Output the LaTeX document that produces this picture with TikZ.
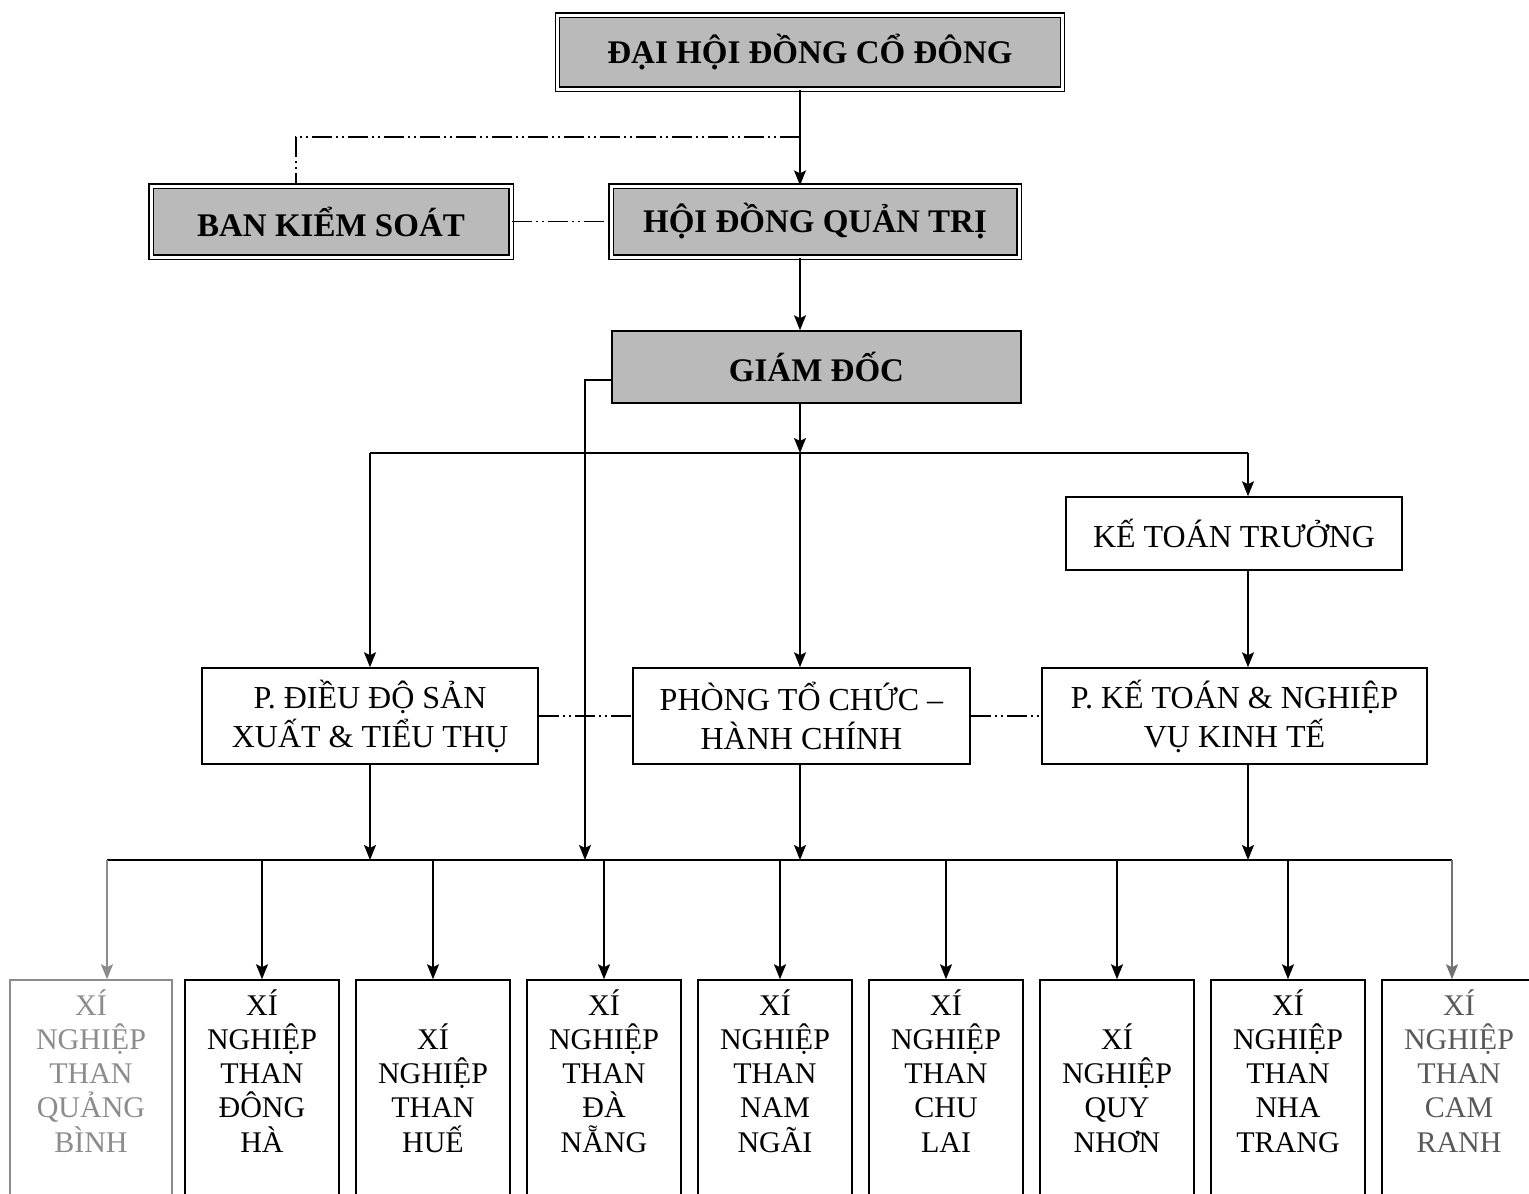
\documentclass[tikz,border=0pt]{standalone}
\usepackage{fontspec}
\setmainfont{Liberation Serif}
\usetikzlibrary{arrows.meta}
\tikzset{
  headbox/.style={draw, double, double distance=3pt, line width=1.3pt, fill=black!27,
    font=\fontsize{33}{38}\selectfont\bfseries, inner sep=0pt},
  gdbox/.style={draw, line width=1.5pt, fill=black!27,
    font=\fontsize{33}{38}\selectfont\bfseries, inner sep=0pt},
  plainbox/.style={draw, line width=1.5pt, align=center,
    font=\fontsize{32}{39}\selectfont, inner sep=0pt},
  xnbox/.style={draw, line width=1.5pt, align=center, font=\fontsize{30}{34.3}\selectfont,
    text width=144pt, text height=25pt, text depth=215pt, inner xsep=5pt, inner ysep=10pt},
  arr/.style={line width=1.6pt, -{Stealth[length=15pt,width=12pt,inset=3pt]}},
  dashdot/.style={line width=1.5pt, dash pattern=on 20pt off 4pt on 2pt off 4pt on 2pt off 4pt},
  faded/.style={draw=black!45, text=black!45},
}
\begin{document}
\begin{tikzpicture}[x=1pt,y=-1pt]
\path[use as bounding box] (0,0) rectangle (1529,1194);
\clip (0,0) rectangle (1529,1194);
\node[headbox, minimum width=505pt, minimum height=74pt] (DH) at (810,52) {ĐẠI HỘI ĐỒNG CỔ ĐÔNG};
\node[headbox, minimum width=408pt, minimum height=71pt, below of = DH, node distance=169.5pt, xshift=5pt] (HD) {HỘI ĐỒNG QUẢN TRỊ};
\node[headbox, minimum width=360pt, minimum height=71pt, left of = HD, node distance=484pt] (BK) {BAN KIỂM SOÁT};
\node[gdbox, minimum width=409pt, minimum height=72pt, below of = HD, node distance=145.5pt, xshift=1.5pt] (GD) {GIÁM ĐỐC};
\node[plainbox, minimum width=337pt, minimum height=96pt, below of = GD, node distance=349pt, xshift=-15pt] (PT) {PHÒNG TỔ CHỨC –\\HÀNH CHÍNH};
\node[plainbox, minimum width=336pt, minimum height=96pt, left of = PT, node distance=431.5pt] (PD) {P. ĐIỀU ĐỘ SẢN\\XUẤT \& TIỂU THỤ};
\node[plainbox, minimum width=385pt, minimum height=96pt, right of = PT, node distance=433pt] (PK) {P. KẾ TOÁN \& NGHIỆP\\VỤ KINH TẾ};
\node[plainbox, minimum width=336pt, minimum height=73pt, above of = PK, node distance=182.5pt, xshift=-0.5pt] (KT) {KẾ TOÁN TRƯỞNG};
\node[xnbox, faded, text width=152pt] (X1) at (91,1110) {XÍ\\NGHIỆP\\THAN\\QUẢNG\\BÌNH};
\node[xnbox, right of = X1, node distance=171pt] (X2) {XÍ\\NGHIỆP\\THAN\\ĐÔNG\\HÀ};
\node[xnbox, right of = X2, node distance=171pt] (X3) {\mbox{}\\XÍ\\NGHIỆP\\THAN\\HUẾ};
\node[xnbox, right of = X3, node distance=171pt] (X4) {XÍ\\NGHIỆP\\THAN\\ĐÀ\\NẴNG};
\node[xnbox, right of = X4, node distance=171pt] (X5) {XÍ\\NGHIỆP\\THAN\\NAM\\NGÃI};
\node[xnbox, right of = X5, node distance=171pt] (X6) {XÍ\\NGHIỆP\\THAN\\CHU\\LAI};
\node[xnbox, right of = X6, node distance=171pt] (X7) {\mbox{}\\XÍ\\NGHIỆP\\QUY\\NHƠN};
\node[xnbox, right of = X7, node distance=171pt] (X8) {XÍ\\NGHIỆP\\THAN\\NHA\\TRANG};
\node[xnbox, right of = X8, node distance=171pt, text=black!65] (X9) {XÍ\\NGHIỆP\\THAN\\CAM\\RANH};
\coordinate (DJ) at (800,137);
\coordinate (UC) at (800,453);
\coordinate (UR) at (1248,453);
\coordinate (GJ) at (585,860);
\coordinate (BL) at (107,860);
\coordinate (BR) at (1452,860);
\draw[arr] (DH.south -| DJ) -- (HD.north -| DJ);
\draw[dashdot] (DJ) -| ([xshift=-35pt]BK.north);
\draw[dashdot] (BK.east) -- (HD.west);
\draw[arr] (HD.south -| DJ) -- (GD.north -| DJ);
\draw[arr] (GD.south -| DJ) -- (UC);
\draw[line width=1.6pt] (PD.north |- UC) -- (UR);
\draw[arr] (PD.north |- UC) -- (PD.north);
\draw[arr] (UC) -- (PT.north -| UC);
\draw[arr] (UR) -- (KT.north -| UR);
\draw[arr] (KT.south -| UR) -- (PK.north -| UR);
\draw[dashdot] (PD.east) -- (PT.west);
\draw[dashdot] (PT.east) -- (PK.west);
\draw[arr] ([yshift=-13pt]GD.west) -| (GJ);
\draw[arr] (PD.south) -- (PD.south |- BL);
\draw[arr] (PT.south -| UC) -- (UC |- BL);
\draw[arr] (PK.south -| UR) -- (UR |- BL);
\draw[line width=1.6pt] (BL) -- (BR);
\draw[arr, black!45] (BL) -- (BL |- X1.north);
\draw[arr] (X2.north |- BL) -- (X2.north);
\draw[arr] (X3.north |- BL) -- (X3.north);
\draw[arr] (X4.north |- BL) -- (X4.north);
\draw[arr] ([xshift=5pt]X5.north |- BL) -- ([xshift=5pt]X5.north);
\draw[arr] (X6.north |- BL) -- (X6.north);
\draw[arr] (X7.north |- BL) -- (X7.north);
\draw[arr] (X8.north |- BL) -- (X8.north);
\draw[arr, black!55] (BR) -- (BR |- X9.north);
\end{tikzpicture}
\end{document}
